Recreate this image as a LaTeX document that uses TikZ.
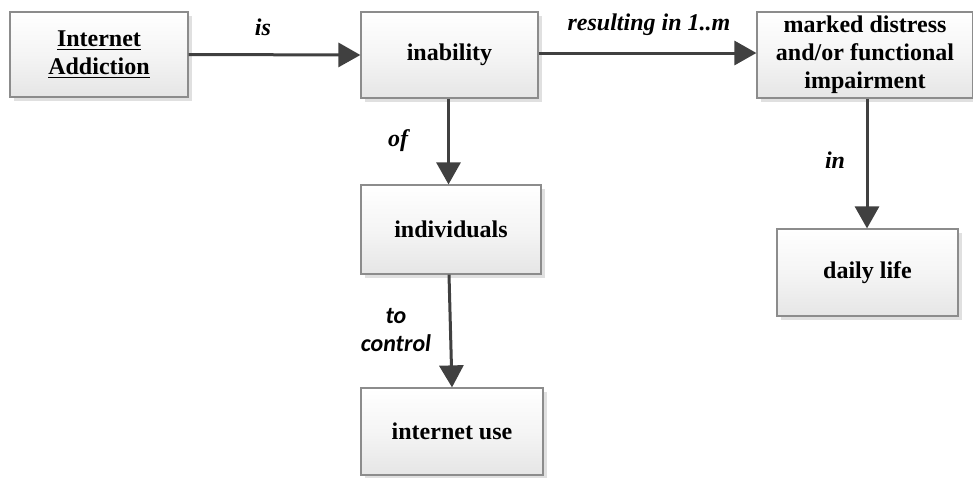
\documentclass[tikz,border=0pt]{standalone}
\usepackage{fontspec}
\setmainfont{Liberation Serif}
\newfontfamily\labelsans{Carlito}
\usetikzlibrary{arrows.meta,shadows}
\definecolor{boxline}{HTML}{8C8C8C}
\definecolor{arrowgray}{HTML}{404040}
\begin{document}
\begin{tikzpicture}[x=0.5pt,y=-0.5pt,
  concept/.style={draw=boxline, line width=0.6pt, rectangle,
    top color=white, bottom color=black!10, middle color=black!4,
    drop shadow={shadow xshift=2pt, shadow yshift=-2pt, fill=black!12, opacity=1},
    align=center, font=\fontsize{12}{14}\selectfont\bfseries, inner sep=0pt},
  link/.style={draw=arrowgray, line width=1.5pt,
    -{Triangle[length=11pt,width=12pt]}},
  rel/.style={font=\fontsize{12}{14}\selectfont\bfseries\itshape, inner sep=0pt},
  relsans/.style={font=\fontsize{12}{14}\labelsans\bfseries\itshape, inner sep=0pt, align=center}]
  \useasboundingbox (0,0) rectangle (973,477);

  % concept boxes
  \node[concept, minimum width=89pt, minimum height=42.5pt] (ia) at (99,54.5)
    {\underline{Internet}\\\underline{Addiction}};
  \node[concept, minimum width=88.5pt, minimum height=43pt] (inab) at (449.5,55) {inability};
  \node[concept, minimum width=108pt, minimum height=43pt] (md) at (865,55)
    {marked distress\\and/or functional\\impairment};
  \node[concept, minimum width=90pt, minimum height=44.5pt] (ind) at (451,229.5) {individuals};
  \node[concept, minimum width=91pt, minimum height=43.5pt] (iu) at (452,431.5) {internet use};
  \node[concept, minimum width=90.5pt, minimum height=43.5pt] (dl) at (867.5,272.5) {daily life};

  % relations
  \draw[link] (ia.east) -- (inab.west);
  \draw[link] ([yshift=1pt]inab.east) -- ([yshift=1pt]md.west);
  \draw[link] ([xshift=-0.5pt]inab.south) -- ([xshift=-0.5pt]inab.south |- ind.north);
  \draw[link] ([xshift=-1pt]ind.south) -- (iu.north);
  \draw[link] ([xshift=1pt]md.south) -- ([xshift=1pt]md.south |- dl.north);

  % relation labels
  \node[rel] (lis) at (263,27) {is};
  \node[rel] (lres) at (649,25) {resulting in 1..m};
  \node[rel] (lof) at (398,141) {of};
  \node[relsans] (lto) at (396,330) {to\\control};
  \node[rel] (lin) at (835,160) {in};
\end{tikzpicture}
\end{document}
